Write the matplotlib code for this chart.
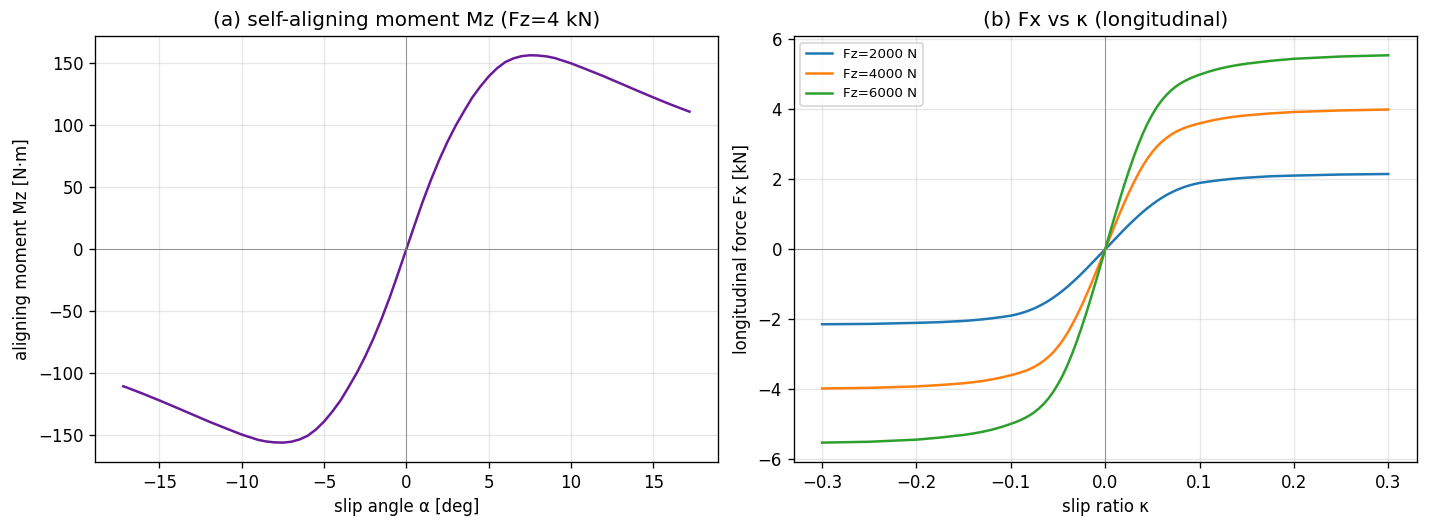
import matplotlib
matplotlib.use("Agg")
import matplotlib.pyplot as plt

# ---- (a) self-aligning moment, Fz = 4 kN ----
alpha_deg = [-17.19, -17, -16, -15, -14, -13, -12, -11, -10, -9, -8.5, -8, -7.5, -7, -6.5, -6,
             -5.5, -5, -4.5, -4, -3.5, -3, -2.5, -2, -1.5, -1, -0.5, 0,
             0.5, 1, 1.5, 2, 2.5, 3, 3.5, 4, 4.5, 5, 5.5, 6, 6.5, 7, 7.5, 8, 8.5, 9,
             10, 11, 12, 13, 14, 15, 16, 17, 17.19]
mz_values = [-110.6, -111.5, -116.6, -122.0, -127.6, -133.3, -139.0, -144.3, -149.5, -153.8,
             -155.1, -155.8, -156, -155.3, -153.5, -150.5, -145.5, -139, -131, -122, -111,
             -99.5, -86.5, -72, -56, -38.5, -19.5, 0,
             19.5, 38.5, 56, 72, 86.5, 99.5, 111, 122, 131, 139, 145.5, 150.5, 153.5, 155.3,
             156, 155.8, 155.1, 153.8, 149.5, 144.3, 139.0, 133.3, 127.6, 122.0, 116.6,
             111.5, 110.6]

# ---- (b) longitudinal force vs slip ratio ----
kappa = [-0.3, -0.25, -0.2, -0.175, -0.15, -0.14, -0.13, -0.12, -0.11,
         -0.1, -0.095, -0.09, -0.085, -0.08, -0.075, -0.07, -0.065, -0.06, -0.055,
         -0.05, -0.045, -0.04, -0.035, -0.03, -0.025, -0.02, -0.015, -0.01, -0.005,
         0.0,
         0.005, 0.01, 0.015, 0.02, 0.025, 0.03, 0.035, 0.04, 0.045, 0.05,
         0.055, 0.06, 0.065, 0.07, 0.075, 0.08, 0.085, 0.09, 0.095, 0.1,
         0.11, 0.12, 0.13, 0.14, 0.15, 0.175, 0.2, 0.25, 0.3]
fx_2000 = [-2.14, -2.13, -2.1, -2.08, -2.045, -2.025, -2.0, -1.97, -1.935,
           -1.895, -1.865, -1.83, -1.79, -1.74, -1.685, -1.62, -1.55, -1.47, -1.38,
           -1.285, -1.18, -1.07, -0.95, -0.825, -0.695, -0.56, -0.42, -0.28, -0.14,
           0.0,
           0.14, 0.28, 0.42, 0.56, 0.695, 0.825, 0.95, 1.07, 1.18, 1.285,
           1.38, 1.47, 1.55, 1.62, 1.685, 1.74, 1.79, 1.83, 1.865, 1.895,
           1.935, 1.97, 2.0, 2.025, 2.045, 2.085, 2.105, 2.135, 2.15]
fx_4000 = [-3.975, -3.955, -3.915, -3.875, -3.825, -3.795, -3.76, -3.715, -3.66,
           -3.595, -3.56, -3.52, -3.475, -3.42, -3.355, -3.275, -3.18, -3.07, -2.94,
           -2.78, -2.6, -2.39, -2.15, -1.89, -1.61, -1.31, -1.0, -0.67, -0.34,
           0.0,
           0.34, 0.67, 1.0, 1.31, 1.61, 1.89, 2.15, 2.39, 2.6, 2.78,
           2.94, 3.07, 3.18, 3.275, 3.355, 3.42, 3.475, 3.52, 3.56, 3.595,
           3.66, 3.715, 3.76, 3.795, 3.825, 3.88, 3.92, 3.965, 3.99]
fx_6000 = [-5.52, -5.495, -5.435, -5.375, -5.3, -5.26, -5.21, -5.15, -5.075,
           -4.985, -4.935, -4.88, -4.815, -4.74, -4.65, -4.54, -4.41, -4.255, -4.07,
           -3.85, -3.6, -3.31, -2.98, -2.62, -2.23, -1.82, -1.38, -0.93, -0.47,
           0.0,
           0.47, 0.93, 1.38, 1.82, 2.23, 2.62, 2.98, 3.31, 3.6, 3.85,
           4.07, 4.255, 4.41, 4.54, 4.65, 4.74, 4.815, 4.88, 4.935, 4.985,
           5.075, 5.15, 5.21, 5.26, 5.3, 5.38, 5.44, 5.505, 5.54]
fx_labels = ["Fz=2000 N", "Fz=4000 N", "Fz=6000 N"]

fig, (ax1, ax2) = plt.subplots(1, 2, figsize=(1429 / 120, 528 / 120), dpi=120)
fig.subplots_adjust(left=0.0665, right=0.9913, bottom=0.125, top=0.932, wspace=0.122)

ax1.plot(alpha_deg, mz_values, color="#6a1b9a", lw=1.5)
ax1.axhline(0, color="gray", lw=0.6, alpha=0.8)
ax1.axvline(0, color="gray", lw=0.6, alpha=0.8)
ax1.grid(True, alpha=0.3)
ax1.set_title("(a) self-aligning moment Mz (Fz=4 kN)")
ax1.set_xlabel("slip angle α [deg]")
ax1.set_ylabel("aligning moment Mz [N·m]")

for vals, lab in zip([fx_2000, fx_4000, fx_6000], fx_labels):
    ax2.plot(kappa, vals, lw=1.5, label=lab)
ax2.axhline(0, color="gray", lw=0.6, alpha=0.8)
ax2.axvline(0, color="gray", lw=0.6, alpha=0.8)
ax2.grid(True, alpha=0.3)
ax2.set_title("(b) Fx vs κ (longitudinal)")
ax2.set_xlabel("slip ratio κ")
ax2.set_ylabel("longitudinal force Fx [kN]")
ax2.legend(fontsize=8, loc="upper left")

fig.savefig("out.png", dpi=120)
